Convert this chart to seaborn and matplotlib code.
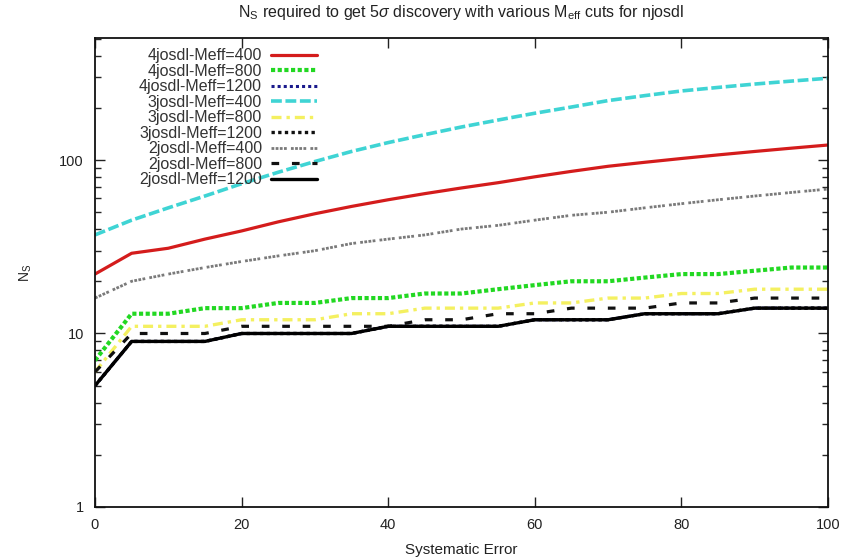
import matplotlib
matplotlib.use("Agg")
import matplotlib.pyplot as plt
import matplotlib.ticker as mticker
import numpy as np
import pandas as pd
import seaborn as sns

# Systematic error (%) scanned in steps of 5
sys_err = [0, 5, 10, 15, 20, 25, 30, 35, 40, 45, 50, 55, 60, 65, 70, 75, 80, 85, 90, 95, 100]

# Required number of signal events for each selection
n_4j_400 = [22, 29, 31, 35, 39, 44, 49, 54, 59, 64, 69, 74, 80, 86, 92, 97, 102, 107, 112, 117, 122]
n_4j_800 = [7, 13, 13, 14, 14, 15, 15, 16, 16, 17, 17, 18, 19, 20, 20, 21, 22, 22, 23, 24, 24]
n_4j_1200 = [5, 9, 9, 9, 10, 10, 10, 10, 11, 11, 11, 11, 12, 12, 12, 13, 13, 13, 14, 14, 14]
n_3j_400 = [37, 45, 53, 62, 73, 85, 98, 112, 126, 140, 155, 170, 186, 202, 220, 235, 250, 262, 274, 285, 296]
n_3j_800 = [6, 11, 11, 11, 12, 12, 12, 13, 13, 14, 14, 14, 15, 15, 16, 16, 17, 17, 18, 18, 18]
n_3j_1200 = [5, 9, 9, 9, 10, 10, 10, 10, 11, 11, 11, 11, 12, 12, 12, 13, 13, 13, 14, 14, 14]
n_2j_400 = [16, 20, 22, 24, 26, 28, 30, 33, 35, 37, 40, 42, 45, 48, 50, 53, 56, 59, 62, 65, 68]
n_2j_800 = [6, 10, 10, 10, 11, 11, 11, 11, 11, 12, 12, 13, 13, 14, 14, 14, 15, 15, 16, 16, 16]
n_2j_1200 = [5, 9, 9, 9, 10, 10, 10, 10, 11, 11, 11, 11, 12, 12, 12, 13, 13, 13, 14, 14, 14]

labels = ["4josdl-Meff=400", "4josdl-Meff=800", "4josdl-Meff=1200",
          "3josdl-Meff=400", "3josdl-Meff=800", "3josdl-Meff=1200",
          "2josdl-Meff=400", "2josdl-Meff=800", "2josdl-Meff=1200"]
values = [n_4j_400, n_4j_800, n_4j_1200, n_3j_400, n_3j_800, n_3j_1200,
          n_2j_400, n_2j_800, n_2j_1200]

styles = {
    "4josdl-Meff=400": dict(color="#d41c1c", lw=2.3, ls="-"),
    "4josdl-Meff=800": dict(color="#22d822", lw=3.0, ls=(0, (1.0, 0.6))),
    "4josdl-Meff=1200": dict(color="#1a1a8c", lw=2.2, ls=(0, (1.0, 1.0))),
    "3josdl-Meff=400": dict(color="#3fd4d4", lw=2.6, ls=(0, (3.0, 1.0))),
    "3josdl-Meff=800": dict(color="#f4f060", lw=2.4, ls=(0, (3.0, 1.5, 1.0, 1.5))),
    "3josdl-Meff=1200": dict(color="#111111", lw=2.4, ls=(0, (1.0, 1.0))),
    "2josdl-Meff=400": dict(color="#7a7a7a", lw=2.0, ls=(0, (1.0, 0.5, 1.0, 0.5, 1.0, 0.5, 1.0, 1.5))),
    "2josdl-Meff=800": dict(color="#111111", lw=2.3, ls=(0, (2.4, 4.0))),
    "2josdl-Meff=1200": dict(color="#000000", lw=2.4, ls="-"),
}

df = pd.concat(
    [pd.DataFrame({"sys": sys_err, "ns": v, "sel": lab}) for lab, v in zip(labels, values)],
    ignore_index=True,
)

sns.set_style("ticks")
plt.rcParams["font.family"] = ["Liberation Sans", "DejaVu Sans"]
plt.rcParams["mathtext.fontset"] = "custom"
plt.rcParams["mathtext.rm"] = "Liberation Sans"
plt.rcParams["mathtext.it"] = "Liberation Sans:italic"
plt.rcParams["mathtext.sf"] = "Liberation Sans"

fig = plt.figure(figsize=(8.58, 5.57), dpi=100)
ax = fig.add_axes([0.1107, 0.0898, 0.8543, 0.842])

for lab in labels:
    st = styles[lab]
    sns.lineplot(data=df[df["sel"] == lab], x="sys", y="ns", ax=ax, label=lab,
                 color=st["color"], linewidth=st["lw"], linestyle=st["ls"],
                 estimator=None, sort=False)

ax.set_yscale("log")
ax.set_xlim(0, 100)
ax.set_ylim(1, 505)
ax.set_xticks([0, 20, 40, 60, 80, 100])
ax.yaxis.set_major_locator(mticker.LogLocator(base=10, numticks=10))
ax.yaxis.set_minor_locator(mticker.LogLocator(base=10, subs=np.arange(2, 10), numticks=20))
ax.yaxis.set_major_formatter(mticker.FuncFormatter(lambda v, p: f"{v:g}"))
ax.yaxis.set_minor_formatter(mticker.NullFormatter())

ax.tick_params(axis="both", which="major", direction="in", length=7, width=1.0,
               top=True, right=True, labelsize=10.5, colors="#222222")
ax.tick_params(axis="x", which="major", pad=8)
ax.tick_params(axis="y", which="major", pad=8)
ax.tick_params(axis="y", which="minor", direction="in", length=4, width=1.0,
               left=True, right=True)
for s in ax.spines.values():
    s.set_linewidth(1.3)
    s.set_color("#111111")

ax.set_xlabel("Systematic Error", fontsize=11, labelpad=8, color="#222222")
ax.set_ylabel(r"N$_\mathrm{S}$", fontsize=10, labelpad=18, color="#222222")
ax.set_title(r"N$_\mathrm{S}$ required to get 5$\sigma$ discovery with various M$_\mathrm{eff}$ cuts for njosdl",
             fontsize=11.5, pad=15, color="#222222")

leg = ax.legend(loc="upper right", bbox_to_anchor=(0.303, 0.978), frameon=False,
                markerfirst=False, fontsize=11.5, handlelength=2.9, handletextpad=0.55,
                labelspacing=0.03, borderaxespad=0.0, borderpad=0.0)
for t in leg.get_texts():
    t.set_color("#333333")

fig.savefig("out.png", dpi=100)
